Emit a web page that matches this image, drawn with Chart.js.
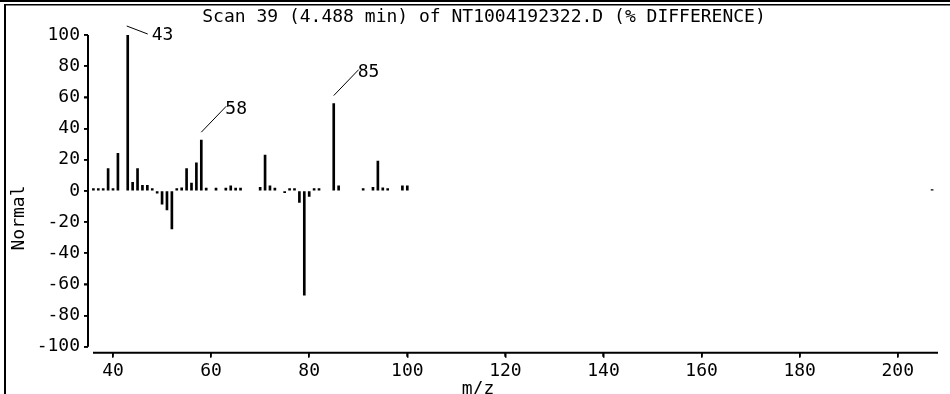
<!DOCTYPE html>
<html>
<head>
<meta charset="utf-8">
<script src="https://cdn.jsdelivr.net/npm/chart.js@4.4.1/dist/chart.umd.min.js"></script>
<style>
  html, body { margin: 0; padding: 0; background: #fff; }
  #contenedor { width: 950px; height: 394px; }
</style>
</head>
<body>
<div id="contenedor"><canvas id="espectro"></canvas></div>
<script>
// Datos del espectro (% de diferencia por m/z)
const masas = [36, 37, 38, 39, 40, 41, 43, 44, 45, 46, 47, 48, 49, 50, 51, 52, 53, 54, 55, 56,
  57, 58, 59, 61, 63, 64, 65, 66, 70, 71, 72, 73, 75, 76, 77, 78, 79, 80, 81, 82,
  85, 86, 91, 93, 94, 95, 96, 99, 100, 207];
const diferencias = [1.5, 1.5, 1.5, 14.3, 1.5, 24, 100, 5.5, 14.3, 3.6, 3.6, 1.5, -1.5, -8.5, -12.3, -24.4, 1.5, 2, 14.3, 5,
  18, 32.5, 1.7, 1.7, 1.7, 3.2, 1.7, 1.7, 2.2, 23, 3.2, 1.7, -1.2, 1.5, 1.5, -7.4, -67, -3.6, 1.5, 1.5,
  56, 3.2, 1.5, 2.2, 19.1, 2, 1.5, 3.2, 3.2, 0.8];
const picosEtiquetados = [43, 58, 85];
const ticksX = [40, 60, 80, 100, 120, 140, 160, 180, 200];
const ticksY = [-100, -80, -60, -40, -20, 0, 20, 40, 60, 80, 100];

const titulo = 'Scan 39 (4.488 min) of NT1004192322.D (% DIFFERENCE)';
const tituloX = 'm/z';
const tituloY = 'Normal';

const FAMILIA = '"DejaVu Sans Mono", monospace';
const FUENTE = '18px ' + FAMILIA;

// Marco, ejes, títulos y etiquetas de los picos
const dibujoExtra = {
  id: 'dibujoExtra',
  beforeDraw(chart) {
    const ctx = chart.ctx;
    ctx.save();
    ctx.fillStyle = '#fff';
    ctx.fillRect(0, 0, chart.width, chart.height);
    ctx.fillStyle = '#000';
    ctx.fillRect(0, 0, chart.width, 2);
    ctx.fillRect(4, 4, chart.width - 4, 1.5);
    ctx.fillRect(4, 4, 2, chart.height - 4);
    ctx.restore();
  },
  afterDraw(chart) {
    const { ctx, chartArea, scales: { x, y } } = chart;
    ctx.save();
    ctx.fillStyle = '#000';
    ctx.strokeStyle = '#000';

    // ejes
    ctx.lineWidth = 2;
    ctx.beginPath();
    ctx.moveTo(chartArea.left, y.getPixelForValue(ticksY[ticksY.length - 1]));
    ctx.lineTo(chartArea.left, y.getPixelForValue(ticksY[0]));
    ctx.moveTo(chartArea.left + 5, chartArea.bottom);
    ctx.lineTo(chartArea.right, chartArea.bottom);
    ctx.stroke();

    // marcas de los ticks
    ctx.lineWidth = 1.5;
    ctx.beginPath();
    ticksX.forEach(v => {
      const px = Math.round(x.getPixelForValue(v));
      ctx.moveTo(px, chartArea.bottom);
      ctx.lineTo(px, chartArea.bottom + 4);
    });
    ticksY.forEach(v => {
      const py = Math.round(y.getPixelForValue(v));
      ctx.moveTo(chartArea.left - 4, py);
      ctx.lineTo(chartArea.left, py);
    });
    ctx.stroke();

    ctx.font = FUENTE;
    ctx.textBaseline = 'middle';

    // etiquetas de picos con su línea guía
    ctx.lineWidth = 1;
    ctx.textAlign = 'left';
    picosEtiquetados.forEach(m => {
      const i = masas.indexOf(m);
      const px = x.getPixelForValue(m);
      const py = y.getPixelForValue(diferencias[i]);
      let x0, y0, x1, y1, tx, ty;
      if (py - 34 < chartArea.top) {
        // sin sitio arriba: la guía baja hacia la derecha
        x0 = px - 1; y0 = py - 9;
        x1 = px + 20; y1 = py - 1;
        tx = x1 + 4; ty = py;
      } else {
        x0 = px; y0 = py - 8;
        x1 = px + 25; y1 = py - 34;
        tx = x1 - 1; ty = py - 31;
      }
      ctx.beginPath();
      ctx.moveTo(x0, y0);
      ctx.lineTo(x1, y1);
      ctx.stroke();
      ctx.fillText(String(m), tx, ty);
    });

    // títulos
    ctx.textAlign = 'center';
    ctx.fillText(titulo, 484, 17);
    ctx.fillText(tituloX, 478, 389);
    ctx.translate(19.5, 218);
    ctx.rotate(-Math.PI / 2);
    ctx.fillText(tituloY, 0, 0);
    ctx.restore();
  }
};

new Chart(document.getElementById('espectro'), {
  type: 'bar',
  data: {
    datasets: [{
      data: masas.map((m, i) => ({ x: m, y: diferencias[i] })),
      backgroundColor: '#000',
      borderWidth: 0,
      barThickness: 2,
    }],
  },
  options: {
    responsive: true,
    maintainAspectRatio: false,
    animation: false,
    layout: { padding: { top: 35, right: 12, left: 0, bottom: 0 } },
    plugins: {
      legend: { display: false },
      tooltip: { enabled: false },
    },
    scales: {
      x: {
        type: 'linear',
        offset: false,
        min: 34.9,
        max: 208.2,
        afterBuildTicks: s => { s.ticks = ticksX.map(v => ({ value: v })); },
        afterFit: s => { s.height = 41.3; },
        border: { display: false },
        grid: { offset: false, drawOnChartArea: false, drawTicks: true, tickLength: 5, color: '#000', lineWidth: 1.5 },
        ticks: { color: '#000', font: { family: FAMILIA, size: 18 }, padding: 3, maxRotation: 0, autoSkip: false },
      },
      y: {
        min: -103.85,
        max: 100,
        afterBuildTicks: s => { s.ticks = ticksY.map(v => ({ value: v })); },
        afterFit: s => { s.width = 88; },
        border: { display: false },
        grid: { drawOnChartArea: false, drawTicks: true, tickLength: 4, color: '#000', lineWidth: 1.5 },
        ticks: { color: '#000', font: { family: FAMILIA, size: 18 }, padding: 4, autoSkip: false },
      },
    },
  },
  plugins: [dibujoExtra],
});
</script>
</body>
</html>
